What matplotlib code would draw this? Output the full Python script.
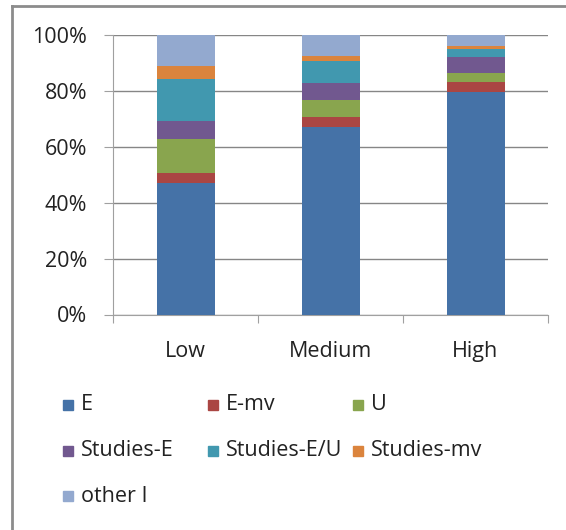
import numpy as np
import matplotlib.pyplot as plt
from matplotlib.patches import Rectangle
from matplotlib.ticker import FuncFormatter

plt.rcParams['font.family'] = ['Open Sans', 'DejaVu Sans']

categories = ['Low', 'Medium', 'High']
series = ['E', 'E-mv', 'U', 'Studies-E', 'Studies-E/U', 'Studies-mv', 'other I']
E = [47.0, 67.0, 79.6]
E_mv = [3.6, 3.6, 3.5]
U = [12.1, 6.2, 3.2]
Studies_E = [6.7, 5.9, 5.7]
Studies_EU = [15.0, 7.9, 3.0]
Studies_mv = [4.5, 2.0, 1.1]
other_I = [11.1, 7.4, 3.9]
values = [E, E_mv, U, Studies_E, Studies_EU, Studies_mv, other_I]
colors = ['#4572A7', '#AA4643', '#89A54E', '#71588F', '#4198AF', '#DB843D', '#93A9CF']

W, H = 566, 530
fs = 15.5
fig = plt.figure(figsize=(W / 100, H / 100), dpi=100)
ax = fig.add_axes([113 / W, 1 - 314.5 / H, 435 / W, 279.5 / H])

x = np.arange(len(categories))
bottom = np.zeros(len(categories))
for vals, c in zip(values, colors):
    ax.bar(x, vals, 0.4, bottom=bottom, color=c, zorder=3)
    bottom += np.array(vals)

ax.set_xlim(-0.5, 2.5)
ax.set_ylim(0, 100)
ax.set_yticks(np.arange(0, 101, 20))
ax.yaxis.set_major_formatter(FuncFormatter(lambda v, p: '%d%%' % v))
ax.yaxis.grid(True, color='#868686', lw=1, zorder=0)
ax.tick_params(axis='y', length=6.5, color='#A0A0A0', labelsize=fs, pad=12, labelcolor='#222222')

ax.set_xticks([-0.5, 0.5, 1.5, 2.5])
ax.set_xticklabels([])
ax.set_xticks(x, minor=True)
ax.set_xticklabels(categories, minor=True)
ax.tick_params(axis='x', which='major', length=6, color='#A0A0A0')
ax.tick_params(axis='x', which='minor', length=0, labelsize=fs, pad=19, labelcolor='#222222')

for s in ['top', 'right']:
    ax.spines[s].set_visible(False)
for s in ['left', 'bottom']:
    ax.spines[s].set_color('#A0A0A0')

# chart frame
fig.add_artist(plt.Line2D([11.5 / W, 11.5 / W], [0, 1 - 6 / H], color='#8C8C8C', lw=2))
fig.add_artist(plt.Line2D([11.5 / W, 1], [1 - 6 / H, 1 - 6 / H], color='#8C8C8C', lw=2))

# legend, 3 columns
for i, (name, c) in enumerate(zip(series, colors)):
    col, row = i % 3, i // 3
    lx = 63 + col * 145
    ly = 405 + row * 45.5
    fig.add_artist(Rectangle((lx / W, 1 - (ly + 5) / H), 10 / W, 10 / H,
                             color=c, transform=fig.transFigure))
    fig.text((lx + 18) / W, 1 - ly / H, name, fontsize=fs, va='center', ha='left',
             color='#222222')

plt.savefig('out.png', dpi=100)
